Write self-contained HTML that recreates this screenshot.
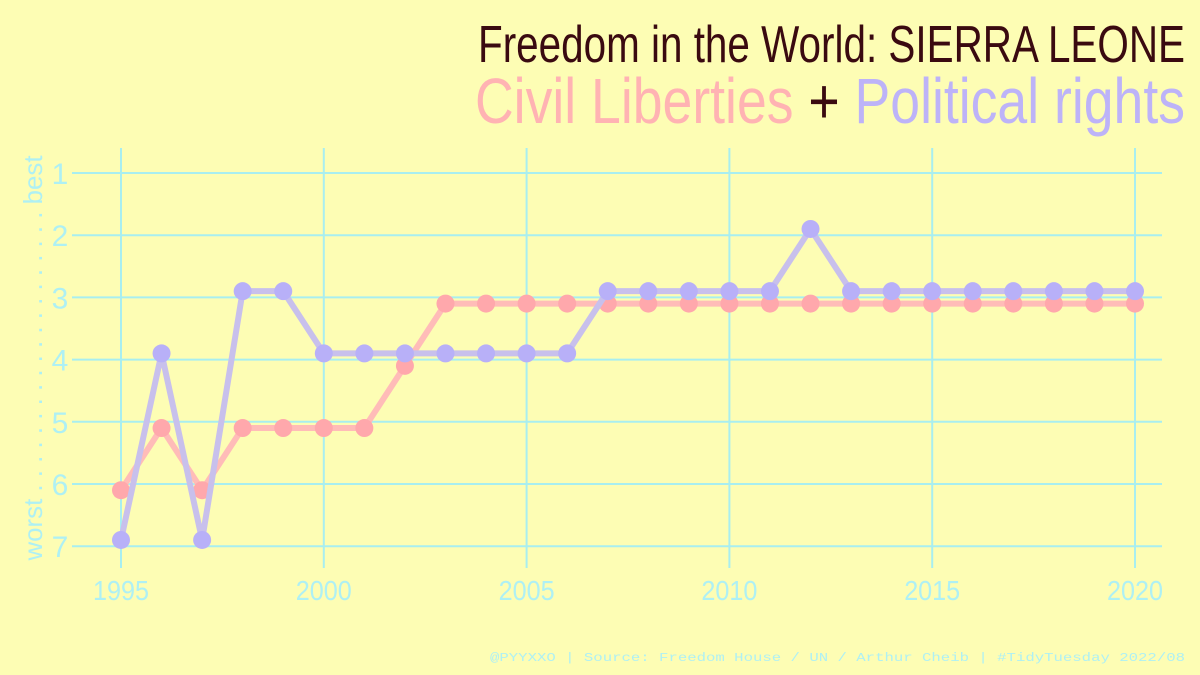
<!DOCTYPE html>
<html><head><meta charset="utf-8"><style>
html,body{margin:0;padding:0;background:#fdfdb4;}
svg{display:block;font-family:"Liberation Sans Narrow","Liberation Sans",sans-serif;}
</style></head><body>
<svg id="chart" width="1200" height="675" viewBox="0 0 1200 675">
<rect width="1200" height="675" fill="#fdfdb4"/>
<text x="1185" y="62" text-anchor="end" font-size="52" fill="#3a0a10" textLength="707" lengthAdjust="spacingAndGlyphs">Freedom in the World: SIERRA LEONE</text>
<text x="1185" y="123" text-anchor="end" font-size="64" textLength="710" lengthAdjust="spacingAndGlyphs"><tspan fill="#ffb3b3">Civil Liberties</tspan><tspan fill="#3a0a10"> + </tspan><tspan fill="#bdb3f8">Political rights</tspan></text>
<g id="grid"></g><g id="lines"></g>
<text transform="translate(42,358) rotate(-90)" text-anchor="middle" font-size="26" fill="#aef0f4" textLength="405" lengthAdjust="spacingAndGlyphs">worst . . . . . . . . . . . . . . . . . . . . best</text>
<text x="1185" y="661" text-anchor="end" font-family="Liberation Mono,monospace" font-size="12" fill="#aef0f4" textLength="695" lengthAdjust="spacingAndGlyphs">@PYYXXO | Source: Freedom House / UN / Arthur Cheib | #TidyTuesday 2022/08</text>
</svg>
<script>
const years=[1995,1996,1997,1998,1999,2000,2001,2002,2003,2004,2005,2006,2007,2008,2009,2010,2011,2012,2013,2014,2015,2016,2017,2018,2019,2020];
const civilLiberties=[6,5,6,5,5,5,5,4,3,3,3,3,3,3,3,3,3,3,3,3,3,3,3,3,3,3];
const politicalRights=[7,4,7,3,3,4,4,4,4,4,4,4,3,3,3,3,3,2,3,3,3,3,3,3,3,3];
const xTicks=[1995,2000,2005,2010,2015,2020];
const yTicks=[1,2,3,4,5,6,7];
const NS='http://www.w3.org/2000/svg';
const x=v=>121+(v-1995)*(1135-121)/25;
const y=v=>173+(v-1)*62.2;
const grid=document.getElementById('grid'),lines=document.getElementById('lines');
function mk(tag,attrs,parent){const e=document.createElementNS(NS,tag);for(const k in attrs)e.setAttribute(k,attrs[k]);parent.appendChild(e);return e;}
yTicks.forEach(t=>{
 const l=mk('line',{x1:72,x2:1162,y1:y(t),y2:y(t),stroke:'#a8eef0','stroke-width':2},grid);
 
 
 const tx=mk('text',{x:60,y:y(t)+11,'text-anchor':'middle','font-size':30,fill:'#aef0f4'},grid);
 tx.textContent=t;
 
 
});
xTicks.forEach(t=>{
 const l=mk('line',{x1:x(t),x2:x(t),y1:148,y2:568,stroke:'#a8eef0','stroke-width':2},grid);
 
 
 const tx=mk('text',{x:x(t),y:600,'text-anchor':'middle','font-size':28,fill:'#aef0f4',textLength:56,lengthAdjust:'spacingAndGlyphs'},grid);
 tx.textContent=t;
 
 
});
function series(vals,off,lineCol,ptCol,name){
 const pts=years.map((yr,i)=>x(yr)+','+y(vals[i]+off)).join(' ');
 const pl=mk('polyline',{points:pts,fill:'none',stroke:lineCol,'stroke-width':6,'stroke-linejoin':'round'},lines);
 
 
 years.forEach((yr,i)=>{
  const c=mk('circle',{cx:x(yr),cy:y(vals[i]+off),r:9,fill:ptCol},lines);
  
  
 });
}
series(civilLiberties,0.1,'#ffbcb8','#ffa8ac','civil-liberties');
series(politicalRights,-0.1,'#c8c0ec','#b8b0f8','political-rights');
</script>
</body></html>
